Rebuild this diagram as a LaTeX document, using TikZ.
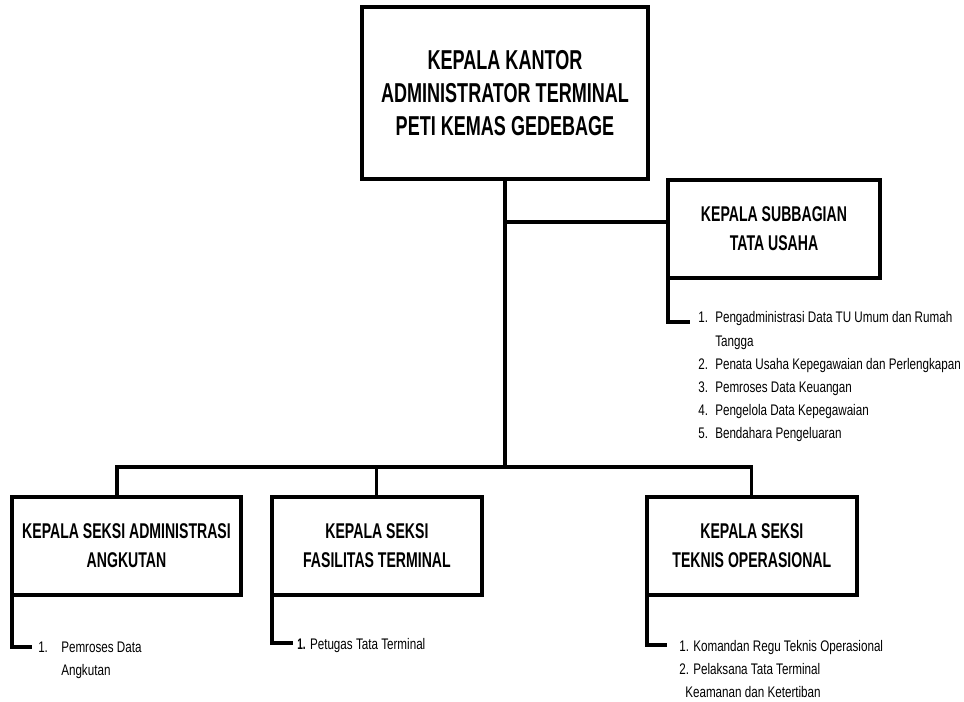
\documentclass[tikz,border=0pt]{standalone}
\usepackage{fontspec}
\setmainfont{Liberation Sans}[FakeStretch=0.76,BoldFeatures={FakeStretch=0.66}]
\usetikzlibrary{positioning}
\tikzset{
	box/.style={draw, line width=3.2pt, minimum height=73.5pt, inner sep=0pt, align=center,
		font=\fontsize{16}{21.75}\selectfont\bfseries},
	link/.style={line width=2.3pt},
	side/.style={line width=2.7pt},
	items/.style={inner sep=0pt, anchor=base west, font=\fontsize{11.5}{17.3}\selectfont},
}

\begin{document}
\begin{tikzpicture}[x=0.75pt, y=-0.75pt]
	\useasboundingbox (0,0) rectangle (964,702);

	\node [box, minimum width=214.5pt, minimum height=129pt,
		font=\fontsize{20.5}{24.75}\selectfont\bfseries] (kantor) at (505,93)
		{KEPALA KANTOR\\ADMINISTRATOR TERMINAL\\PETI KEMAS GEDEBAGE};
	\node [box, minimum width=159pt] (tu) at (774,229) {KEPALA SUBBAGIAN\\TATA USAHA};
	\node [box, minimum width=171.75pt] (angkutan) at (126.5,546)
		{KEPALA SEKSI ADMINISTRASI\\ANGKUTAN};
	\node [box, minimum width=157.5pt, right=20pt of angkutan] (fasilitas)
		{KEPALA SEKSI\\FASILITAS TERMINAL};
	\node [box, minimum width=157.5pt, right=120.5pt of fasilitas] (teknis)
		{KEPALA SEKSI\\TEKNIS OPERASIONAL};

	\coordinate (bus) at (117,467);
	\draw [link] (kantor.south) -- (kantor.south |- bus);
	\draw [link] ([yshift=5.25pt]tu.west) -- ([yshift=5.25pt]tu.west -| kantor.south);
	\draw [link] (angkutan.north -| bus) -- (bus) -- (bus -| teknis.north) -- (teknis.north);
	\draw [link] (fasilitas.north) -- (fasilitas.north |- bus);

	\coordinate (tuend) at (690,322);
	\coordinate (angkutanend) at (32,647);
	\coordinate (fasilitasend) at (293,643);
	\coordinate (teknisend) at (667,645);
	\draw [side] ([xshift=1.6pt]tu.south west) |- (tuend);
	\draw [side] ([xshift=1.6pt]angkutan.south west) |- (angkutanend);
	\draw [side] ([xshift=1.6pt]fasilitas.south west) |- (fasilitasend);
	\draw [side] ([xshift=1.6pt]teknis.south west) |- (teknisend);

	\node [items] (tulist) at (698,323) {\begin{tabular}[t]{@{}p{12.75pt}@{}l@{}}
		1. & Pengadministrasi Data TU Umum dan Rumah\\
		   & Tangga\\
		2. & Penata Usaha Kepegawaian dan Perlengkapan\\
		3. & Pemroses Data Keuangan\\
		4. & Pengelola Data Kepegawaian\\
		5. & Bendahara Pengeluaran
	\end{tabular}};
	\node [items] (angkutanlist) at (38,652) {\begin{tabular}[t]{@{}p{17.25pt}@{}l@{}}
		1. & Pemroses Data\\
		   & Angkutan
	\end{tabular}};
	\node [items] (fasilitaslist) at (297,649) {\textbf{1.} Petugas Tata Terminal};
	\node [items] (teknislist) at (679,651) {\begin{tabular}[t]{@{}l@{}}
		1. Komandan Regu Teknis Operasional\\
		2. Pelaksana Tata Terminal\\
		\hspace{4.5pt}Keamanan dan Ketertiban
	\end{tabular}};
\end{tikzpicture}
\end{document}
